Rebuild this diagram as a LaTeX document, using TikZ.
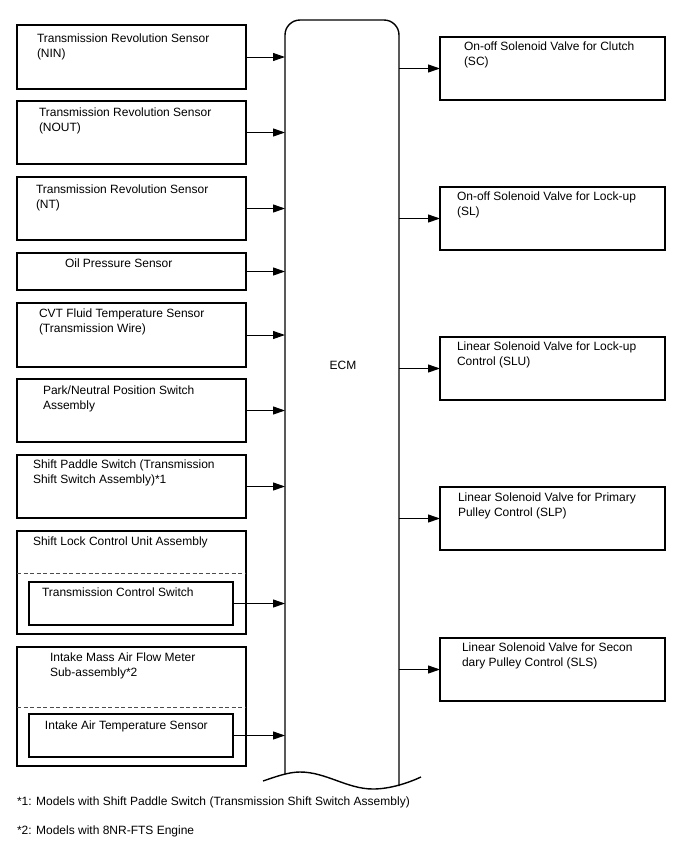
\documentclass[tikz,border=0pt]{standalone}
\usepackage{fontspec}
\setmainfont{Liberation Sans}
\usetikzlibrary{arrows.meta,positioning}
\tikzset{
  box/.style={draw=black, line width=1.2pt, rectangle, inner sep=0pt, outer sep=0pt, anchor=north west},
  lbl/.style={anchor=north west, align=left, inner sep=0pt, outer sep=0pt, font=\fontsize{12}{15}\selectfont},
  arr/.style={line width=1pt, -{Triangle[length=12pt,width=8pt]}},
  sep/.style={draw=black!70, line width=0.6pt, dash pattern=on 4pt off 2.5pt}
}
\begin{document}
\begin{tikzpicture}[x=1pt,y=-1pt]
\useasboundingbox (0,0) rectangle (688,852);
% ECM body
\node[inner sep=0pt, outer sep=0pt, minimum width=114pt, minimum height=755pt, anchor=north west] (ecm) at (285,20) {};
\draw[line width=1.4pt, rounded corners=15pt] (285,774) -- (285,20) -- (399,20) -- (399,786);
\draw[line width=1.4pt] (263,781) .. controls (275,777) and (288,772) .. (300,772)
  .. controls (326,772) and (347,789) .. (373,789)
  .. controls (390,789) and (408,783) .. (421,777);
\node[lbl, anchor=center] (ecmt) at (343,365) {ECM};

% Left boxes
\node[box, minimum width=229pt, minimum height=64pt] (b1) at (17,25) {};
\node[lbl] (t1) at (37,33.5) {Transmission Revolution Sensor\\(NIN)};
\node[box, minimum width=229pt, minimum height=63pt] (b2) at (17,101) {};
\node[lbl] (t2) at (39,107.5) {Transmission Revolution Sensor\\(NOUT)};
\node[box, minimum width=229pt, minimum height=63pt] (b3) at (17,177) {};
\node[lbl] (t3) at (36,184.5) {Transmission Revolution Sensor\\(NT)};
\node[box, minimum width=229pt, minimum height=37pt] (b4) at (17,253) {};
\node[lbl] (t4) at (65,258.5) {Oil Pressure Sensor};
\node[box, minimum width=229pt, minimum height=64pt] (b5) at (17,303) {};
\node[lbl] (t5) at (39,308.5) {CVT Fluid Temperature Sensor\\(Transmission Wire)};
\node[box, minimum width=229pt, minimum height=63pt] (b6) at (17,379) {};
\node[lbl] (t6) at (43,385.5) {Park/Neutral Position Switch\\Assembly};
\node[box, minimum width=229pt, minimum height=63pt] (b7) at (17,455) {};
\node[lbl] (t7) at (33,459.5) {Shift Paddle Switch (Transmission\\Shift Switch Assembly)*1};
% Shift lock
\node[box, minimum width=229pt, minimum height=103pt] (b8) at (17,531) {};
\node[lbl] (t8) at (33,536.5) {Shift Lock Control Unit Assembly};
\draw[sep] (b8.west |- 0,573) -- (b8.east |- 0,573);
\node[box, minimum width=204pt, minimum height=43pt] (b8i) at (29,582) {};
\node[lbl] (t8i) at (42,587.5) {Transmission Control Switch};
% Intake
\node[box, minimum width=229pt, minimum height=119pt] (b9) at (17,647) {};
\node[lbl] (t9) at (50,652.5) {Intake Mass Air Flow Meter\\Sub-assembly*2};
\draw[sep] (b9.west |- 0,707) -- (b9.east |- 0,707);
\node[box, minimum width=204pt, minimum height=43pt] (b9i) at (29,714) {};
\node[lbl] (t9i) at (45,720.5) {Intake Air Temperature Sensor};

% Right boxes
\node[box, minimum width=225pt, minimum height=63pt] (r1) at (440,37) {};
\node[lbl] (u1) at (464,41.5) {On-off Solenoid Valve for Clutch\\(SC)};
\node[box, minimum width=225pt, minimum height=63pt] (r2) at (440,187) {};
\node[lbl] (u2) at (457,191.5) {On-off Solenoid Valve for Lock-up\\(SL)};
\node[box, minimum width=225pt, minimum height=63pt] (r3) at (440,337) {};
\node[lbl] (u3) at (457,341.5) {Linear Solenoid Valve for Lock-up\\Control (SLU)};
\node[box, minimum width=225pt, minimum height=63pt] (r4) at (440,487) {};
\node[lbl] (u4) at (458,492.5) {Linear Solenoid Valve for Primary\\Pulley Control (SLP)};
\node[box, minimum width=225pt, minimum height=63pt] (r5) at (440,638) {};
\node[lbl] (u5) at (462,642.5) {Linear Solenoid Valve for Secon\\dary Pulley Control (SLS)};

% Arrows in
\foreach \b in {b1,b2,b3,b4,b5,b6,b7,b8i,b9i}
  \draw[arr] (\b.east) -- (\b.east -| ecm.west);
% Arrows out
\foreach \r in {r1,r2,r3,r4,r5}
  \draw[arr] (\r.west -| ecm.east) -- (\r.west);

% Footnotes
\node[lbl] (f1) at (17,796.5) {*1: Models with Shift Paddle Switch (Transmission Shift Switch Assembly)};
\node[lbl] (f2) at (17,825.5) {*2: Models with 8NR-FTS Engine};
\end{tikzpicture}
\end{document}
